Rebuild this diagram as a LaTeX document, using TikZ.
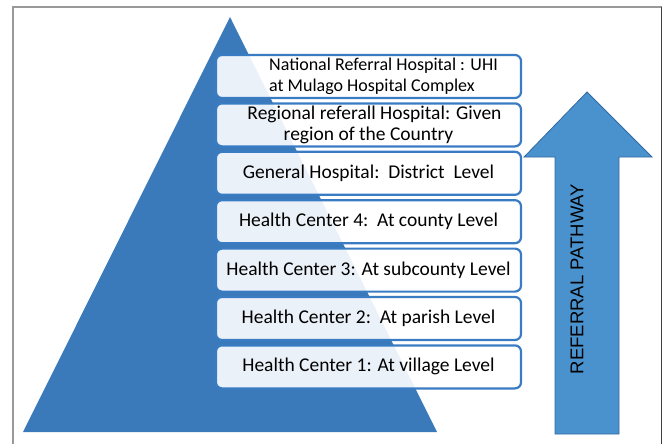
\documentclass[tikz,border=0pt]{standalone}
\usepackage{fontspec}
\setmainfont{Carlito}
\newfontfamily\arrowfont{Liberation Sans}
\usetikzlibrary{positioning}
\definecolor{pyrblue}{RGB}{58,122,187}
\definecolor{arrblue}{RGB}{74,146,206}
\definecolor{arredge}{RGB}{52,104,160}
\definecolor{boxedge}{RGB}{58,124,196}
\begin{document}
\begin{tikzpicture}[x=1pt,y=1pt,
	level/.style={draw=boxedge,line width=2.2pt,rounded corners=6pt,fill=white,fill opacity=0.9,text opacity=1,
		minimum width=305pt,minimum height=43pt,inner sep=1pt,font=\fontsize{19.5}{20.5}\selectfont},
	node distance=3.2pt]
				\useasboundingbox (0,0) rectangle (663,-444);
				\draw[gray!80,line width=1.2pt] (13,-444) -- (13,-7) -- (661.5,-7);
				\draw[black!75,line width=1.2pt] (661.5,-7) -- (661.5,-444);
				\fill[pyrblue] (230,-17) -- (437,-432) -- (23,-432) -- cycle;
				\draw[arredge,fill=arrblue,line width=0.8pt] (555,-434) -- (555,-157) -- (524,-157) -- (587,-92) -- (652,-157) -- (619,-157) -- (619,-434) -- cycle;
				\node[rotate=90,font=\arrowfont\fontsize{18.5}{20}\selectfont] (path) at (577,-279) {REFERRAL PATHWAY};
				\node[level,align=left,font=\fontsize{18}{20.5}\selectfont] (nrh) at (368.5,-76.5) {\hspace*{30pt}National Referral Hospital : UHI\\\hspace*{30pt}at Mulago Hospital Complex};
				\node[level,align=center,below=of nrh] (rrh) {\hspace*{12pt}Regional referall Hospital: Given\\region of the Country};
				\node[level,below=of rrh] (gh) {General Hospital:\ \ District\ \ Level};
				\node[level,below=of gh] (hc4) {Health Center 4:\ \ At county Level};
				\node[level,below=of hc4] (hc3) {Health Center 3: At subcounty Level};
				\node[level,below=of hc3] (hc2) {Health Center 2:\ \ At parish Level};
				\node[level,below=of hc2] (hc1) {Health Center 1: At village Level};
			\end{tikzpicture}
\end{document}
